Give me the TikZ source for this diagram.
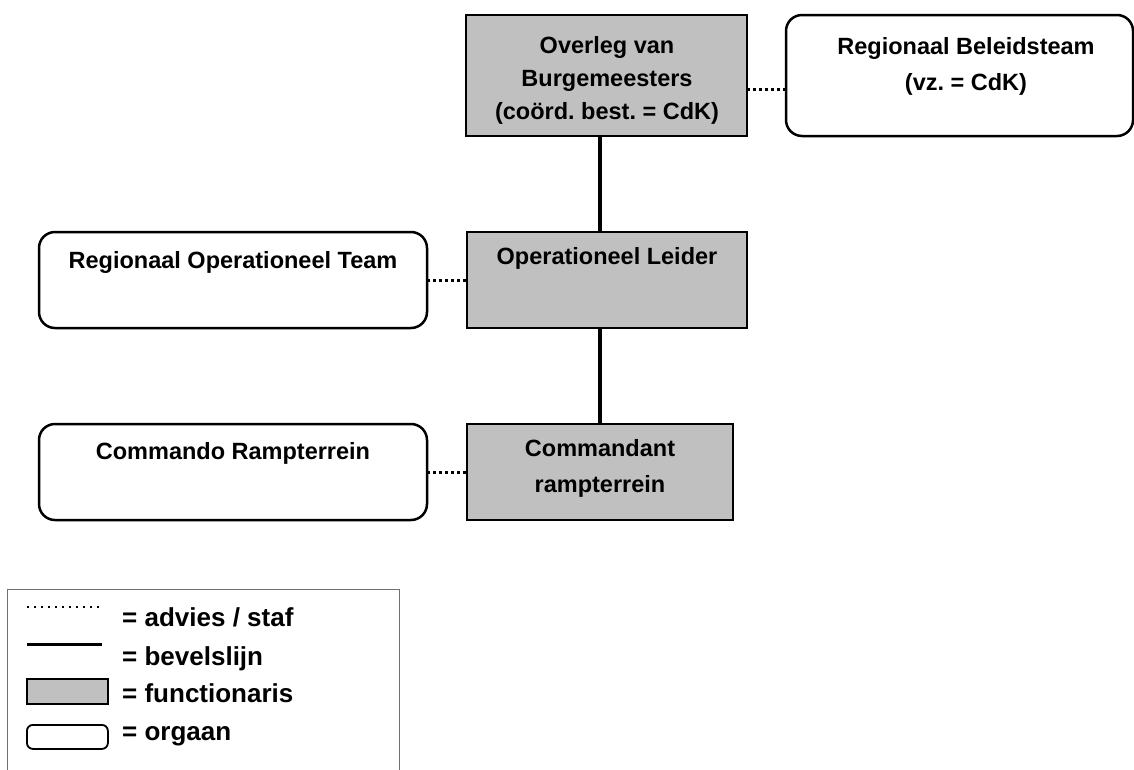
\documentclass[tikz,border=0pt]{standalone}
\usepackage{fontspec}
\setmainfont{Liberation Sans}
\usetikzlibrary{calc}
\definecolor{funcgray}{HTML}{C0C0C0}
\definecolor{legframe}{HTML}{707070}
\tikzset{
 boxbase/.style={draw=black, line width=2.8pt, inner sep=0pt, outer sep=0pt, anchor=north west},
 func/.style={boxbase, fill=funcgray},
 org/.style={boxbase, line width=2.5pt, fill=white, rounded corners=16pt},
 lbl/.style={font=\fontsize{23.5}{33}\selectfont\bfseries, align=center, inner sep=0pt},
 lblwide/.style={lbl, font=\fontsize{23.5}{36}\selectfont\bfseries},
 bevel/.style={line width=3.5pt},
 advies/.style={line width=3pt, dash pattern=on 3pt off 3pt},
 legtext/.style={font=\fontsize{26}{30}\selectfont\bfseries, anchor=base west, inner sep=0pt},
}
\frenchspacing
\begin{document}
\begin{tikzpicture}[x=1pt,y=-1pt]
\useasboundingbox (0,0) rectangle (1134,769);
\clip (0,0) rectangle (1134,769);
\fill[white] (0,0) rectangle (1134,769);
% boxes
\node[func, minimum width=281pt, minimum height=121pt] (b1) at (466,15) {};
\node[org, minimum width=347pt, minimum height=121pt] (rbt) at (786,15) {};
\node[func, minimum width=280pt, minimum height=96pt] (ol) at (467,232) {};
\node[org, minimum width=388pt, minimum height=96pt] (rot) at (39,232) {};
\node[func, minimum width=266pt, minimum height=96pt] (cr) at (467,424) {};
\node[org, minimum width=388pt, minimum height=96pt] (crt) at (39,424) {};
% texts
\node[lbl] (b1t) at (607,80) {Overleg van\\Burgemeesters\\(coörd. best. = CdK)};
\node[lblwide] (rbtt) at (966,66) {Regionaal Beleidsteam\\(vz. = CdK)};
\node[lbl] (olt) at (607,258) {Operationeel Leider};
\node[lbl] (rott) at (233,262) {Regionaal Operationeel Team};
\node[lblwide] (crtx) at (600,468) {Commandant\\rampterrein};
\node[lbl] (crtt) at (233,453) {Commando Rampterrein};
% connectors
\draw[bevel] (cr.north |- b1.south) -- (cr.north |- ol.north);
\draw[bevel] (cr.north |- ol.south) -- (cr.north);
\coordinate (d1) at ([yshift=-74pt]b1.north east);
\draw[advies] (d1) -- (d1 -| rbt.west);
\draw[advies] (rot.east) -- (ol.west);
\draw[advies] (crt.east) -- (cr.west);
% legend
\node[draw=legframe, line width=1.2pt, minimum width=392pt, minimum height=220pt, anchor=north west, inner sep=0pt] (leg) at (7,589) {};
\coordinate (l1a) at (27,607); \coordinate (l1b) at (102,607);
\draw[line width=2pt, dash pattern=on 2pt off 5pt] (l1a) -- (l1b);
\coordinate (l2a) at (27,644); \coordinate (l2b) at (102,644);
\draw[line width=3pt] (l2a) -- (l2b);
\node[draw, line width=1.8pt, fill=funcgray, minimum width=81pt, minimum height=25pt, anchor=north west, inner sep=0pt] (lg3) at (26,678) {};
\node[draw, line width=1.8pt, fill=white, rounded corners=6pt, minimum width=81pt, minimum height=24pt, anchor=north west, inner sep=0pt] (lg4) at (26,724) {};
\node[legtext] (lt1) at (122,626) {= advies / staf};
\node[legtext] (lt2) at (122,665) {= bevelslijn};
\node[legtext] (lt3) at (122,702) {= functionaris};
\node[legtext] (lt4) at (122,740) {= orgaan};
\end{tikzpicture}
\end{document}
